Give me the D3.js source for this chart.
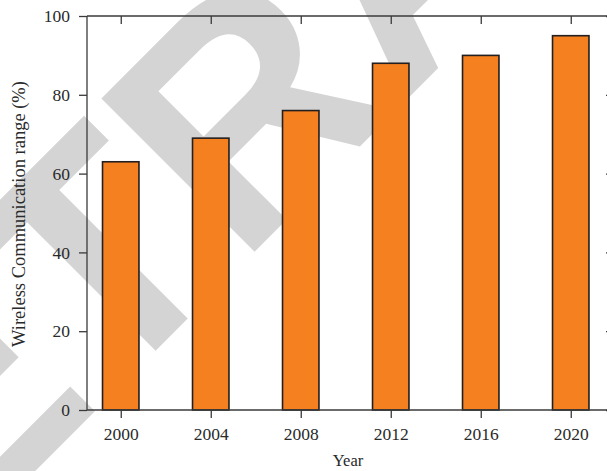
<!DOCTYPE html>
<html>
<head>
<meta charset="utf-8">
<script src="https://cdn.jsdelivr.net/npm/d3@7"></script>
<style>
  html, body { margin: 0; padding: 0; background: #ffffff; }
  svg { display: block; }
</style>
</head>
<body>
<div id="chart"></div>
<script>
// ---- data ----
const years = [2000, 2004, 2008, 2012, 2016, 2020];
const rangeValues = [63, 69, 76, 88, 90, 95];
const yTicks = [0, 20, 40, 60, 80, 100];
const xTitle = "Year";
const yTitle = "Wireless Communication range (%)";
const watermarkText = "RETRACTED";

const W = 607, H = 471;
const plot = { left: 87, right: 614, top: 16, bottom: 410 };

const svg = d3.select("#chart").append("svg")
  .attr("width", W).attr("height", H)
  .attr("viewBox", `0 0 ${W} ${H}`);

// watermark (behind everything)
svg.append("text")
  .attr("transform", "rotate(-45)")
  .attr("x", -649).attr("y", 358)
  .attr("font-family", "'Liberation Sans', Arial, sans-serif")
  .attr("font-weight", "bold")
  .attr("font-size", 315)
  .attr("fill", "#d4d4d4")
  .text(watermarkText);

const x = d3.scaleLinear().domain([1998.5, 2021.7]).range([plot.left, 609]);
const y = d3.scaleLinear().domain([0, 100]).range([plot.bottom, plot.top]);
const halfBar = 0.81;

const axisColor = "#3a3a3a";
const fontFamily = "'Liberation Serif', 'Times New Roman', serif";

// bars
svg.append("g").selectAll("rect")
  .data(years.map((yr, i) => ({ yr, v: rangeValues[i] })))
  .join("rect")
  .attr("x", d => x(d.yr - halfBar))
  .attr("width", d => x(d.yr + halfBar) - x(d.yr - halfBar))
  .attr("y", d => y(d.v))
  .attr("height", d => y(0) - y(d.v))
  .attr("fill", "#f58020")
  .attr("stroke", "#231f20")
  .attr("stroke-width", 1.6);

function styleAxis(g, showText) {
  g.select(".domain").remove();
  g.selectAll(".tick line").attr("stroke", axisColor).attr("stroke-width", 1.3);
  g.selectAll(".tick text").attr("fill", "#2a2a2a")
    .attr("font-family", fontFamily).attr("font-size", 17.5);
  if (!showText) g.selectAll(".tick text").remove();
}

// bottom axis
svg.append("g").attr("transform", `translate(0,${plot.bottom})`)
  .call(d3.axisBottom(x).tickValues(years).tickFormat(d3.format("d")).tickSize(8).tickPadding(10))
  .call(g => styleAxis(g, true));
// top axis (inward ticks)
svg.append("g").attr("transform", `translate(0,${plot.top})`)
  .call(d3.axisBottom(x).tickValues(years).tickSize(8))
  .call(g => styleAxis(g, false));
// left axis
svg.append("g").attr("transform", `translate(${plot.left},0)`)
  .call(d3.axisLeft(y).tickValues(yTicks).tickSize(8).tickPadding(9))
  .call(g => styleAxis(g, true));
// right axis (inward ticks)
svg.append("g").attr("transform", `translate(${plot.right},0)`)
  .call(d3.axisLeft(y).tickValues(yTicks).tickSize(8))
  .call(g => styleAxis(g, false));

// frame lines
const frame = svg.append("g").attr("stroke", axisColor).attr("stroke-width", 1.3).attr("fill", "none");
frame.append("line").attr("x1", plot.left).attr("x2", plot.left).attr("y1", plot.top).attr("y2", plot.bottom);
frame.append("line").attr("x1", plot.left).attr("x2", plot.right).attr("y1", plot.bottom).attr("y2", plot.bottom);
frame.append("line").attr("x1", plot.left).attr("x2", plot.right).attr("y1", plot.top).attr("y2", plot.top);
frame.append("line").attr("x1", plot.right).attr("x2", plot.right).attr("y1", plot.top).attr("y2", plot.bottom);

// titles
svg.append("text")
  .attr("x", (plot.left + 609) / 2).attr("y", 466)
  .attr("text-anchor", "middle")
  .attr("font-family", fontFamily).attr("font-size", 16.5).attr("fill", "#2a2a2a")
  .text(xTitle);

svg.append("text")
  .attr("transform", `translate(25,${(plot.top + plot.bottom) / 2 + 1}) rotate(-90)`)
  .attr("text-anchor", "middle")
  .attr("font-family", fontFamily).attr("font-size", 18.5).attr("fill", "#2a2a2a")
  .text(yTitle);
</script>
</body>
</html>
